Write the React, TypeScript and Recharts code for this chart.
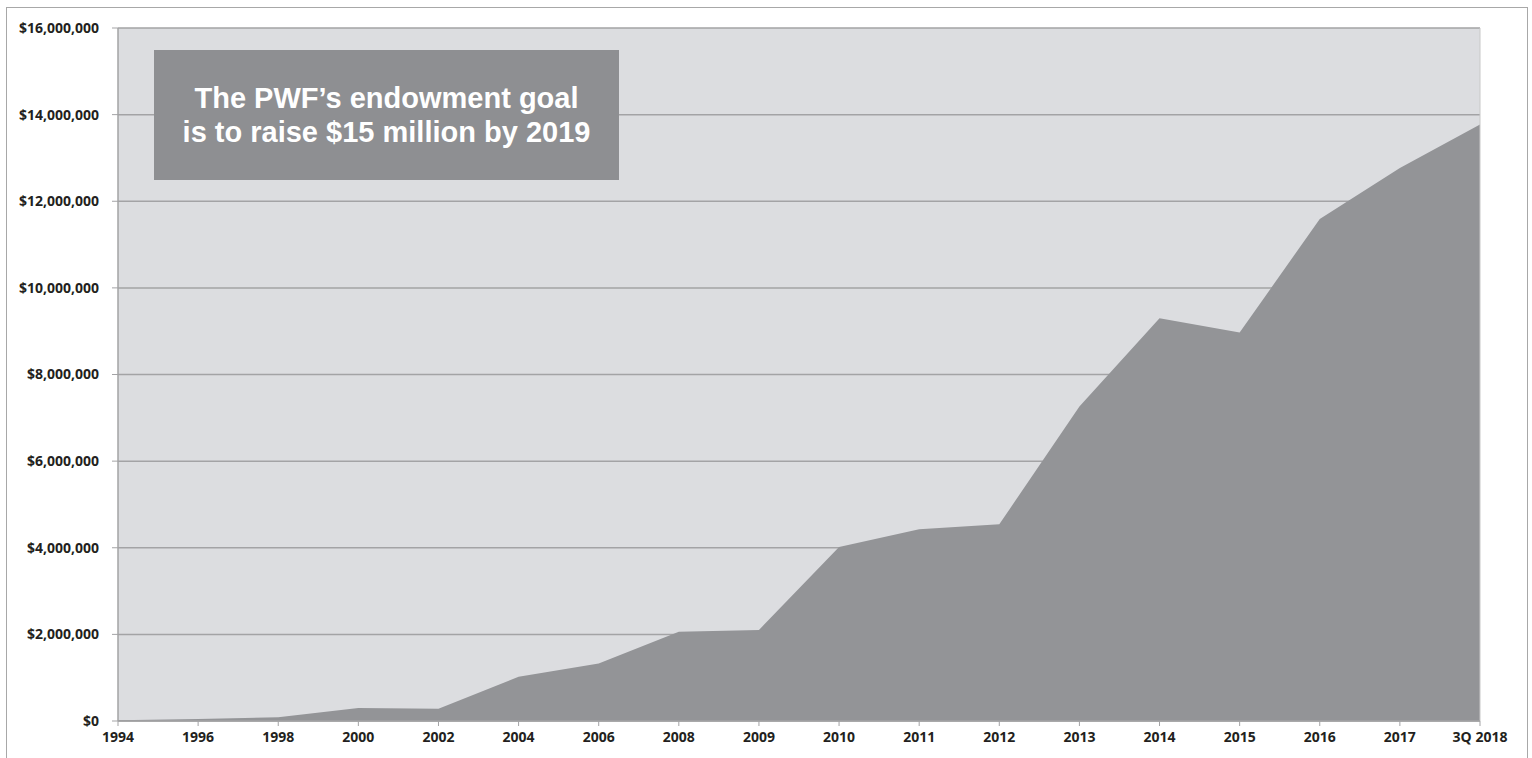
import React from "react";
import { AreaChart, Area, XAxis, YAxis, CartesianGrid, ReferenceLine } from "recharts";

const years = ["1994", "1996", "1998", "2000", "2002", "2004", "2006", "2008", "2009", "2010", "2011", "2012", "2013", "2014", "2015", "2016", "2017", "3Q 2018"];
const endowment = [15000, 45000, 85000, 300000, 285000, 1020000, 1330000, 2060000, 2100000, 4020000, 4430000, 4540000, 7260000, 9300000, 8970000, 11590000, 12770000, 13770000];
const yTicks = [0, 2000000, 4000000, 6000000, 8000000, 10000000, 12000000, 14000000, 16000000];
const noteLines = ["The PWF\u2019s endowment goal", "is to raise $15 million by 2019"];

const data = years.map((y, i) => ({ year: y, value: endowment[i] }));

const fmt = (v: number) => "$" + v.toLocaleString("en-US");

export default function App() {
  const tickStyle = { fill: "#231f20", fontFamily: "Open Sans", fontWeight: 700, fontSize: 14 };
  return (
    <div style={{ position: "absolute", left: 0, top: 0, width: 1532, height: 758, background: "#fff", overflow: "hidden" }}>
      <div style={{ position: "absolute", left: 6, top: 7, width: 1522, height: 770, border: "1.5px solid #a8a8a8", boxSizing: "border-box" }} />
      <div style={{ position: "absolute", left: 0, top: 0 }}>
        <AreaChart width={1532} height={758} data={data} margin={{ top: 28, right: 52, bottom: 7, left: 0 }}>
          <CartesianGrid vertical={false} stroke="#a3a3a5" strokeWidth={1.5} fill="#dcdde0" />
          <XAxis
            dataKey="year"
            interval={0}
            height={30}
            tickSize={5}
            tickMargin={6}
            stroke="#a3a3a5"
            tick={tickStyle}
            axisLine={{ stroke: "#a3a3a5", strokeWidth: 1.5 }}
            tickLine={{ stroke: "#a3a3a5" }}
          />
          <YAxis
            width={118}
            domain={[0, 16000000]}
            ticks={yTicks}
            interval={0}
            tickFormatter={fmt}
            tickSize={6}
            tickMargin={13}
            tick={tickStyle}
            axisLine={{ stroke: "#a3a3a5", strokeWidth: 1.5 }}
            tickLine={{ stroke: "#a3a3a5" }}
          />
          <Area
            type="linear"
            dataKey="value"
            stroke="none"
            fill="#939497"
            fillOpacity={1}
            isAnimationActive={false}
          />
          <ReferenceLine x="3Q 2018" stroke="#c8c8c8" strokeWidth={1} />
        </AreaChart>
      </div>
      <div
        style={{
          position: "absolute",
          left: 154,
          top: 50,
          width: 465,
          height: 130,
          background: "#8e8f92",
          color: "#fff",
          fontFamily: "Liberation Sans, Arial, sans-serif",
          fontWeight: 700,
          fontSize: 29,
          lineHeight: "34px",
          textAlign: "center",
          display: "flex",
          flexDirection: "column",
          justifyContent: "center",
        }}
      >
        {noteLines.map((l) => (
          <div key={l}>{l}</div>
        ))}
      </div>
    </div>
  );
}
